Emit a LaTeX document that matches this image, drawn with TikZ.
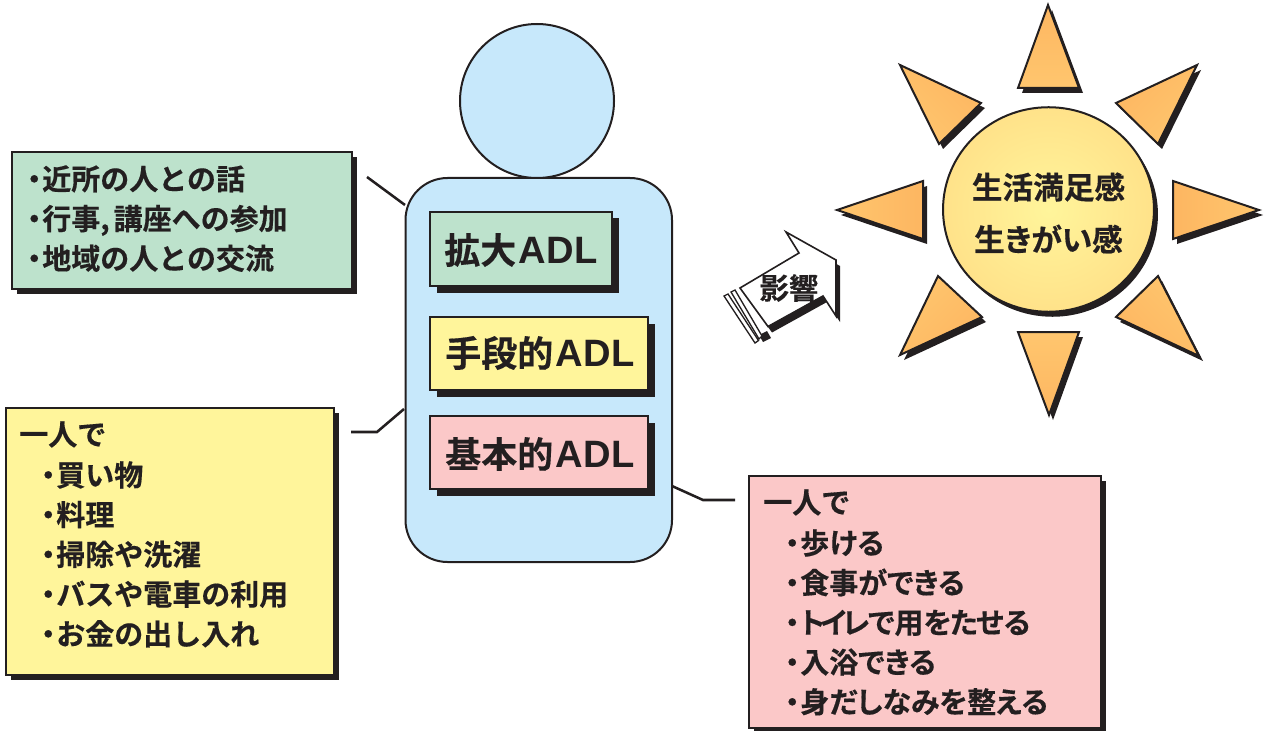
\documentclass[tikz,border=0pt]{standalone}
\usepackage{fontspec}
\newfontfamily\jpfont{Noto Sans CJK JP}[BoldFont={Noto Sans CJK JP Bold},BoldFeatures={FakeBold=0.4}]
\newfontfamily\jptight{Noto Sans CJK JP}[BoldFont={Noto Sans CJK JP Bold},BoldFeatures={FakeBold=0.4,RawFeature=+palt}]
\newfontfamily\latinfont{Liberation Sans}
\usetikzlibrary{calc,shapes.geometric}
\definecolor{inkdark}{HTML}{231F20}
\definecolor{adlgreen}{HTML}{BDE2CC}
\definecolor{adlyellow}{HTML}{FFF59B}
\definecolor{adlpink}{HTML}{FBC8C8}
\definecolor{bodyblue}{HTML}{C7E8FB}
\definecolor{rayout}{HTML}{FDB661}
\definecolor{rayin}{HTML}{FFC66E}
\definecolor{sunout}{HTML}{FECF78}
\pgfdeclareradialshading{sunglow}{\pgfpoint{0bp}{0bp}}{color(0bp)=(adlyellow); color(50bp)=(sunout)}
\tikzset{
    outline/.style={draw=inkdark,line width=1.5pt},
    link/.style={inkdark,line width=1.9pt},
    listtext/.style={font=\jpfont\bfseries\fontsize{21.75}{29.8}\selectfont,align=left,anchor=north west,inner sep=0pt,text=inkdark},
    tighttext/.style={listtext,font=\jptight\bfseries\fontsize{21.75}{29.8}\selectfont},
    adltext/.style={font=\jpfont\bfseries\fontsize{27}{30}\selectfont,anchor=west,inner sep=0pt,text=inkdark},
    suntext/.style={font=\jpfont\bfseries\fontsize{23}{30}\selectfont,inner sep=0pt,text=inkdark},
}
\newcommand{\bul}{\makebox[12pt][c]{・}}
\newcommand{\adl}{\kern2pt{\latinfont\bfseries\fontsize{28.6}{30}\selectfont ADL}}
% box with its drop shadow: corners, fill, shadow offset
\newcommand{\shadowbox}[6]{
    \fill[inkdark] ($(#1,#2)+(#6,#6)$) rectangle ($(#3,#4)+(#6,#6)$);
    \draw[outline,fill=#5] (#1,#2) rectangle (#3,#4);
}
% ray of the sun: three corners, shading angle
\newcommand{\sunray}[4]{
    \fill[inkdark,shift={(4,5)}] #1--#2--#3--cycle;
    \shade[top color=rayin,bottom color=rayout,shading angle=#4] #1--#2--#3--cycle;
    \draw[outline,line join=miter] #1--#2--#3--cycle;
}
\newcommand{\arrowpath}{(740,288)--(799,253)--(786,232)--(836,260)--(836,316)--(823,296)--(768,326.5)--cycle}
\begin{document}
\begin{tikzpicture}[x=0.75pt,y=-0.75pt]
\useasboundingbox (0,0) rectangle (1264,731);

% person
\draw[outline,fill=bodyblue,rounded corners=31.5pt] (405.5,178) rectangle (672,562);
\node[circle,outline,fill=bodyblue,minimum size=115.5pt,inner sep=0pt] (head) at (537,101) {};

% boxes in the body
\shadowbox{430}{212}{612}{286}{adlgreen}{6.5}
\shadowbox{430}{317}{648}{390}{adlyellow}{6.5}
\shadowbox{430}{416}{648}{489}{adlpink}{6.5}
\node[adltext] (kakudai) at (444,250) {拡大\adl};
\node[adltext] (shudan) at (445,353) {手段的\adl};
\node[adltext] (kihon) at (445,454) {基本的\adl};

% lists
\shadowbox{12}{152}{352}{289}{adlgreen}{5}
\shadowbox{6}{408}{334}{675}{adlyellow}{5}
\shadowbox{749}{476}{1101}{728}{adlpink}{5}
\node[listtext] (greenlist) at (26,165) {\bul 近所の人との話\\\bul 行事,\kern3pt 講座への参加\\\bul 地域の人との交流};
\node[listtext] (yellowhead) at (19,421) {一人で};
\node[listtext] (yellowlist) at (40,461) {\bul 買い物\\\bul 料理\\\bul 掃除や洗濯\\\bul バスや電車の利用\\\bul お金の出し入れ};
\node[listtext] (pinkhead) at (763,489) {一人で};
\node[tighttext] (pinklist) at (784,529) {\bul 歩ける\\\bul 食事ができる\\\bul ト\kern-3pt イ\kern-3pt レ\kern-1pt で用を\kern-1pt た\kern-1pt せる\\\bul 入浴できる\\\bul 身だしなみを整える};

% links
\coordinate (ga) at (367,177);
\coordinate (gb) at (405,205);
\coordinate (ya) at (351,432);
\coordinate (yb) at (377,432);
\coordinate (yc) at (404,409);
\coordinate (pa) at (672,486);
\coordinate (pb) at (703,500);
\coordinate (pc) at (735,500);
\draw[link] (ga)--(gb);
\draw[link] (ya)--(yb)--(yc);
\draw[link] (pa)--(pb)--(pc);

% arrow
\fill[inkdark,shift={(4,6)}] \arrowpath;
\draw[inkdark,line width=1.2pt,fill=white,line join=miter] \arrowpath;
\fill[inkdark] (759,335)--(767,331)--(771,338)--(763,342)--cycle;
\draw[inkdark,line width=1pt,fill=white] (731,292)--(735,290)--(762,336)--(759,339)--cycle;
\draw[inkdark,line width=1pt,fill=white] (724,296)--(728,294)--(758.5,340.5)--(755,343)--cycle;
\node[font=\jpfont\bfseries\fontsize{22}{24}\selectfont,text=inkdark,inner sep=0pt] (eikyo) at (789,288) {影響};

% sun
\fill[inkdark] (1052.5,214.5) ellipse[x radius=79.1pt,y radius=76.7pt];
\shade[shading=sunglow] (1048.5,209.5) ellipse[x radius=79.1pt,y radius=76.7pt];
\node[ellipse,outline,minimum width=158.2pt,minimum height=153.4pt,inner sep=0pt] (sun) at (1048.5,209.5) {};
\node[suntext] (seikatsu) at (1048.5,187) {生活満足感};
\node[suntext,font=\jptight\bfseries\fontsize{23}{30}\selectfont] (ikigai) at (1048.5,239) {生きがい感};
\sunray{(1048,5)}{(1018,88)}{(1079,88)}{180}
\sunray{(900,65)}{(981,103)}{(939,144)}{135}
\sunray{(1197,65)}{(1116,103)}{(1158,144)}{225}
\sunray{(837,210)}{(923,181)}{(923,239)}{90}
\sunray{(1259,210)}{(1173,181)}{(1173,239)}{270}
\sunray{(900,355)}{(938,276)}{(982,317)}{45}
\sunray{(1199,356)}{(1158,276)}{(1116,317)}{315}
\sunray{(1049,415)}{(1018,332)}{(1079,332)}{0}
\end{tikzpicture}
\end{document}
